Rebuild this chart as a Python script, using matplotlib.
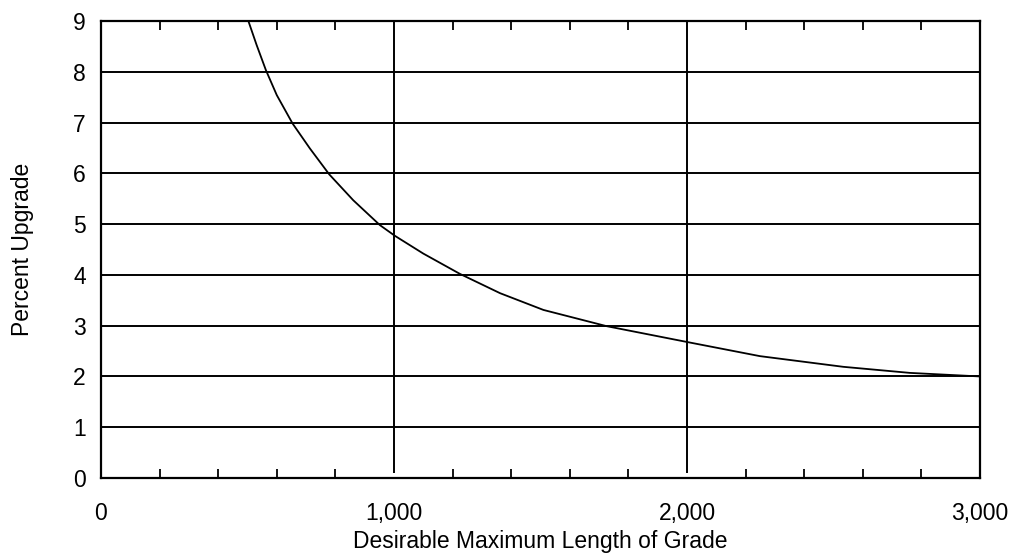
import matplotlib
matplotlib.use("Agg")
import matplotlib.pyplot as plt
from matplotlib.ticker import FuncFormatter, MultipleLocator

plt.rcParams['font.family'] = ['Liberation Sans', 'DejaVu Sans']

# Data
length_ft = [503, 531, 563, 600, 654, 713, 779, 861, 952, 1003, 1100, 1225,
             1362, 1510, 1726, 1999, 2249, 2533, 2761, 3000]
grade_pct = [9.0, 8.53, 8.03, 7.54, 6.98, 6.49, 5.98, 5.47, 4.98, 4.77, 4.42,
             4.02, 3.64, 3.31, 2.99, 2.68, 2.40, 2.19, 2.07, 2.0]
x_major = [0, 1000, 2000, 3000]
y_ticks = list(range(0, 10))
v_lines = [1000, 2000]

fig = plt.figure(figsize=(10.13, 5.59), dpi=100)
ax = fig.add_axes([0.0997, 0.1449, 0.8677, 0.8175])

ax.set_xlim(0, 3000)
ax.set_ylim(0, 9)

for y in y_ticks[1:]:
    ax.axhline(y, color='black', lw=1.4, zorder=1)
ax.vlines(v_lines, 0.1, 9, color='black', lw=1.4, zorder=1)

ax.plot(length_ft, grade_pct, color='black', lw=1.3, zorder=3)

ax.set_xticks(x_major)
ax.xaxis.set_major_formatter(FuncFormatter(lambda v, p: f"{int(v):,}"))
ax.xaxis.set_minor_locator(MultipleLocator(200))
ax.tick_params(axis='x', which='both', direction='in', top=True, bottom=True,
               length=0, labelsize=16.5, pad=17)
ax.tick_params(axis='x', which='minor', length=6.5, width=1.3)
ax.set_yticks(y_ticks)
ax.tick_params(axis='y', length=0, labelsize=16.5, pad=11)

for s in ax.spines.values():
    s.set_linewidth(1.6)
    s.set_color('black')

ax.set_xlabel("Desirable Maximum Length of Grade", fontsize=16.5, labelpad=4)
ax.set_ylabel("Percent Upgrade", fontsize=16.5, labelpad=28)

fig.savefig("out.png", dpi=100)
